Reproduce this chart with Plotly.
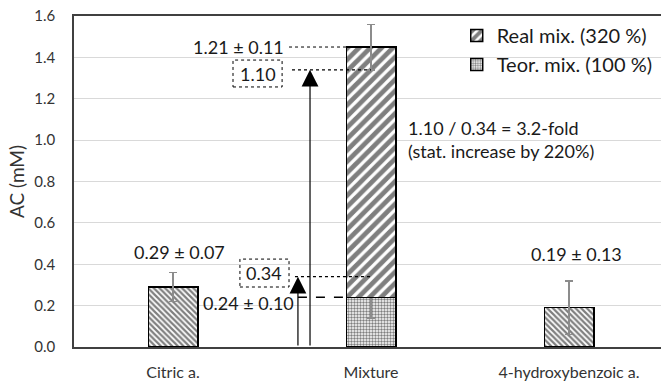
import plotly.graph_objects as go

categories = ["Citric a.", "Mixture", "4-hydroxybenzoic a."]
single_cats = ["Citric a.", "4-hydroxybenzoic a."]
single_vals = [0.29, 0.19]
single_err = [0.07, 0.13]
teor_val = [0.24]
teor_err = [0.10]
real_val = [1.21]
real_err = [0.11]
increase = 1.10
theor_level = 0.34
y_ticks = [0.0, 0.2, 0.4, 0.6, 0.8, 1.0, 1.2, 1.4, 1.6]

FONT = "Lato"
ERR = dict(type="data", visible=True, color="#8c8c8c", thickness=1.5, width=4)
OUTLINE = dict(color="black", width=1.5)

fig = go.Figure()
fig.add_trace(go.Bar(
    x=single_cats, y=single_vals, width=0.25, showlegend=False,
    error_y=dict(array=single_err, **ERR),
    marker=dict(color="white", line=OUTLINE,
                pattern=dict(shape="\\", size=4, solidity=0.55, fgcolor="black", bgcolor="white")),
))
fig.add_trace(go.Bar(
    x=["Mixture"], y=teor_val, width=0.25, name="Teor. mix. (100 %)", legendrank=2,
    legendgroup="b",
    error_y=dict(array=teor_err, **ERR),
    marker=dict(color="white", line=OUTLINE,
                pattern=dict(shape=".", size=3, solidity=0.5, fgcolor="black", bgcolor="white")),
))
fig.add_trace(go.Bar(
    x=["Mixture"], y=real_val, width=0.25, name="Real mix. (320 %)", legendrank=1,
    legendgroup="a",
    error_y=dict(array=real_err, **ERR),
    marker=dict(color="white", line=OUTLINE,
                pattern=dict(shape="/", size=8, solidity=0.6, fgcolor="black", bgcolor="white")),
))

total = teor_val[0] + real_val[0]
top_inc = teor_val[0] + increase

shapes = [
    dict(type="line", x0=0.586, x1=0.875, y0=total, y1=total, line=dict(color="black", width=1, dash="dot")),
    dict(type="line", x0=0.601, x1=1.0, y0=top_inc, y1=top_inc, line=dict(color="black", width=1.3, dash="dot")),
    dict(type="line", x0=0.616, x1=1.0, y0=theor_level, y1=theor_level, line=dict(color="black", width=1.3, dash="dot")),
    dict(type="line", x0=0.631, x1=0.875, y0=teor_val[0], y1=teor_val[0], line=dict(color="black", width=1.5, dash="dash")),
    dict(type="rect", x0=0.303, x1=0.551, y0=1.257, y1=1.387, line=dict(color="black", width=1, dash="dot")),
    dict(type="rect", x0=0.338, x1=0.586, y0=0.290, y1=0.425, line=dict(color="black", width=1, dash="dot")),
]

AF = dict(family=FONT, size=18, color="#1a1a1a")
annotations = [
    dict(x=0.571, y=total, text=f"{real_val[0]:.2f} ± {real_err[0]:.2f}", xanchor="right", showarrow=False, font=AF),
    dict(x=0.427, y=1.322, text=f"{increase:.2f}", showarrow=False, font=AF),
    dict(x=0.462, y=0.357, text=f"{theor_level:.2f}", showarrow=False, font=AF),
    dict(x=0.621, y=0.213, text=f"{teor_val[0]:.2f} ± {teor_err[0]:.2f}", xanchor="right", showarrow=False, font=AF),
    dict(x=0.035, y=0.46, text=f"{single_vals[0]:.2f} ± {single_err[0]:.2f}", showarrow=False, font=AF),
    dict(x=2.04, y=0.45, text=f"{single_vals[1]:.2f} ± {single_err[1]:.2f}", showarrow=False, font=AF),
    dict(x=1.177, y=1.003, text=f"{increase:.2f} / {theor_level:.2f} = 3.2-fold<br>(stat. increase by 220%)",
         xanchor="left", align="left", showarrow=False, font=AF),
    dict(x=0.692, y=top_inc, ax=0.692, ay=0, axref="x", ayref="y", text="", showarrow=True,
         arrowhead=2, arrowsize=2.8, arrowwidth=1.2, arrowcolor="black", standoff=0, startstandoff=0),
    dict(x=0.631, y=theor_level, ax=0.631, ay=0, axref="x", ayref="y", text="", showarrow=True,
         arrowhead=2, arrowsize=2.8, arrowwidth=1.2, arrowcolor="black", standoff=0, startstandoff=0),
]

fig.update_layout(
    width=661, height=382,
    margin=dict(l=74, r=0, t=16, b=35),
    barmode="stack",
    plot_bgcolor="white", paper_bgcolor="white",
    font=dict(family=FONT, size=15, color="#333333"),
    shapes=shapes, annotations=annotations,
    legend=dict(x=0.652, y=1.0, xanchor="left", yanchor="top", bgcolor="rgba(0,0,0,0)",
                font=dict(family=FONT, size=20, color="#1a1a1a"),
                traceorder="grouped", tracegroupgap=0, itemwidth=30),
)
fig.update_xaxes(
    categoryorder="array", categoryarray=categories, range=[-0.5, 2.4646],
    showline=True, linecolor="#404040", linewidth=1.5, mirror=True,
    ticks="", ticklabelstandoff=10, tickfont=dict(size=16), showgrid=False,
)
fig.update_yaxes(
    range=[0, 1.6], tickvals=y_ticks, ticktext=[f"{v:.1f}" for v in y_ticks],
    showline=True, linecolor="#404040", linewidth=1.5,
    gridcolor="#d9d9d9", gridwidth=1, zeroline=False,
    ticks="", ticklabelstandoff=14, tickfont=dict(size=15),
    title=dict(text="AC (mM)", font=dict(size=19), standoff=5),
)

fig.write_html("out.html")
